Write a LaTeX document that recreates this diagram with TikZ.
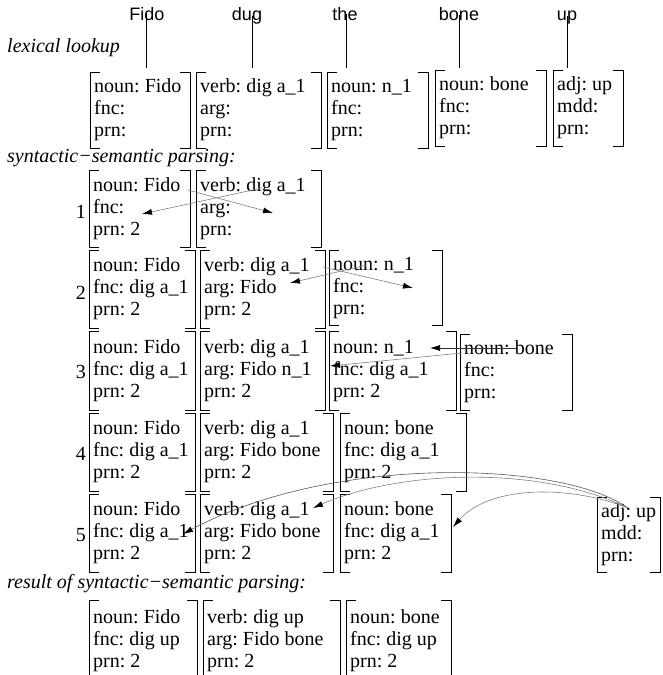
\documentclass[tikz,border=0pt]{standalone}
\usepackage{fontspec}
\setmainfont{Liberation Serif}
\newfontfamily\sansf{Liberation Sans}
\usetikzlibrary{arrows.meta}
\frenchspacing
\newcommand{\bx}[6]{%
  \pgfmathsetmacro{\boxw}{#4-#2-8}\pgfmathsetmacro{\boxh}{#5-#3}%
  \node[boxnode, minimum height=\boxh pt] (#1) at (#2,#3)
    {\makebox[\boxw pt][l]{\begin{tabular}{@{}l@{}}#6\end{tabular}}};
  \draw[brk] ([xshift=10pt]#1.north west) -- (#1.north west) -- (#1.south west) -- ([xshift=10pt]#1.south west);
  \draw[brk] ([xshift=-10pt]#1.north east) -- (#1.north east) -- (#1.south east) -- ([xshift=-10pt]#1.south east);
}
\begin{document}
\begin{tikzpicture}[x=1pt,y=-1pt,
  boxnode/.style={anchor=north west, inner xsep=4pt, inner ysep=0pt, font=\fontsize{20}{22}\selectfont},
  brk/.style={line width=1pt, black},
  lbl/.style={anchor=west, inner sep=0pt, font=\fontsize{20}{22}\selectfont\itshape},
  word/.style={inner sep=0pt, anchor=base, font=\sansf\fontsize{18}{20}\selectfont},
  num/.style={anchor=east, inner sep=0pt, font=\fontsize{20}{20}\selectfont},
  tick/.style={line width=0.9pt},
  link/.style={draw=gray, line width=0.6pt, -{Latex[length=10pt,width=6pt,color=black]}},
  ]
\fill[white] (0,0) rectangle (662,675);
\useasboundingbox (0,0) rectangle (662,675);

% sentence words
\node[word] (wFido) at (147,20) {Fido};
\node[word] (wdug) at (247,20) {dug};
\node[word] (wthe) at (345,20) {the};
\node[word] (wbone) at (459,20) {bone};
\node[word] (wup) at (567,20) {up};
\coordinate (tFido) at (146,68);
\coordinate (tdug) at (252,68);
\coordinate (tthe) at (346,68);
\coordinate (tbone) at (459,68);
\coordinate (tup) at (567,68);
\draw[tick] ([xshift=-1pt,yshift=6pt]wFido.base) -- (tFido);
\draw[tick] ([xshift=5pt,yshift=4pt]wdug.base) -- (tdug);
\draw[tick] ([xshift=1pt,yshift=6pt]wthe.base) -- (tthe);
\draw[tick] ([yshift=5pt]wbone.base) -- (tbone);
\draw[tick] ([yshift=4pt]wup.base) -- (tup);

% section labels
\node[lbl] (lab1) at (7,48) {lexical lookup};
\node[lbl] (lab2) at (7,158) {syntactic−semantic parsing:};
\node[lbl] (lab3) at (7,584) {result of syntactic−semantic parsing:};

% lexical lookup
\bx{L1}{90}{72}{190}{148}{noun: Fido\\fnc:\\prn:}
\bx{L2}{196}{72}{321}{148}{verb: dig a\_1\\arg:\\prn:}
\bx{L3}{327}{72}{428}{148}{noun: n\_1\\fnc:\\prn:}
\bx{L4}{435}{70}{546}{146}{noun: bone\\fnc:\\prn:}
\bx{L5}{553}{70}{623}{146}{adj: up\\mdd:\\prn:}

% row 1
\node[num] (n1) at (86,212) {1};
\bx{A1}{89}{170}{190}{247}{noun: Fido\\fnc:\\prn: 2}
\bx{A2}{196}{170}{321}{247}{verb: dig a\_1\\arg:\\prn:}

% row 2
\node[num] (n2) at (86,293) {2};
\bx{B1}{89}{250}{195}{328}{noun: Fido\\fnc: dig a\_1\\prn: 2}
\bx{B2}{200}{250}{325}{328}{verb: dig a\_1\\arg: Fido\\prn: 2}
\bx{B3}{329}{250}{442}{325}{noun: n\_1\\fnc:\\prn:}

% row 3
\node[num] (n3) at (86,372) {3};
\bx{C1}{89}{331}{195}{410}{noun: Fido\\fnc: dig a\_1\\prn: 2}
\bx{C2}{200}{331}{325}{410}{verb: dig a\_1\\arg: Fido n\_1\\prn: 2}
\bx{C3}{329}{331}{456}{410}{noun: n\_1\\fnc: dig a\_1\\prn: 2}
\bx{C4}{460}{334}{572}{410}{noun: bone\\fnc:\\prn:}

% row 4
\node[num] (n4) at (86,454) {4};
\bx{D1}{89}{413}{195}{491}{noun: Fido\\fnc: dig a\_1\\prn: 2}
\bx{D2}{200}{413}{333}{491}{verb: dig a\_1\\arg: Fido bone\\prn: 2}
\bx{D3}{340}{413}{466}{491}{noun: bone\\fnc: dig a\_1\\prn: 2}

% row 5
\node[num] (n5) at (86,535) {5};
\bx{E1}{89}{494}{195}{572}{noun: Fido\\fnc: dig a\_1\\prn: 2}
\bx{E2}{200}{494}{333}{572}{verb: dig a\_1\\arg: Fido bone\\prn: 2}
\bx{E3}{340}{494}{451}{572}{noun: bone\\fnc: dig a\_1\\prn: 2}
\bx{E4}{597}{497}{660}{572}{adj: up\\mdd:\\prn:}

% result
\bx{F1}{89}{600}{197}{682}{noun: Fido\\fnc: dig up\\prn: 2}
\bx{F2}{203}{600}{340}{682}{verb: dig up\\arg: Fido bone\\prn: 2}
\bx{F3}{346}{600}{451}{682}{noun: bone\\fnc: dig up\\prn: 2}

% arrows row 1
\coordinate (a1s) at (188,190); \coordinate (a1e) at (273,213);
\coordinate (b1s) at (262,188); \coordinate (b1e) at (142,214);
\draw[link] (a1s) -- (a1e);
\draw[link] (b1s) -- (b1e);
% arrows row 2
\coordinate (a2s) at (323,267); \coordinate (a2e) at (413,288);
\coordinate (b2s) at (367,265); \coordinate (b2e) at (290,283);
\draw[link] (a2s) -- (a2e);
\draw[link] (b2s) -- (b2e);
% arrows row 3
\coordinate (a3s) at (518,348); \coordinate (a3e) at (430,348);
\coordinate (b3s) at (462,353); \coordinate (b3e) at (330,366);
\draw[link, draw=black!80] (a3s) -- (a3e);
\draw[link] (b3s) -- (b3e);
% curves from adj: up
\coordinate (us) at (628,508);
\coordinate (ua) at (183,534);
\coordinate (ub) at (313,508);
\coordinate (uc) at (453,527);
\draw[link, draw=black!65] (us) .. controls (560,460) and (330,455) .. (ua);
\draw[link] (us) .. controls (540,465) and (400,470) .. (ub);
\draw[link] (us) .. controls (570,485) and (490,485) .. (uc);
\end{tikzpicture}
\end{document}
